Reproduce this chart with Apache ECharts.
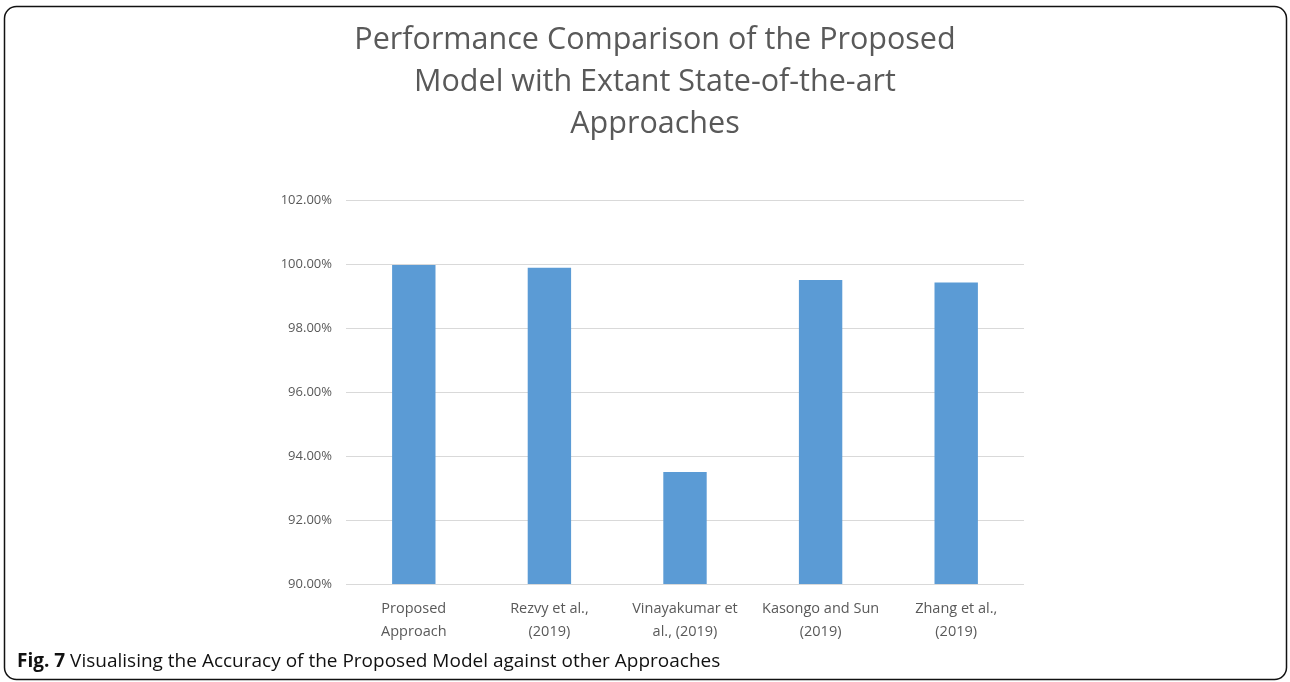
<!DOCTYPE html>
<html>
<head>
<meta charset="utf-8">
<script src="https://cdn.jsdelivr.net/npm/echarts@6/dist/echarts.min.js"></script>
<style>
  html, body { margin: 0; padding: 0; background: #fff; }
  #chart { width: 1290px; height: 682px; }
</style>
</head>
<body>
<div id="chart"></div>
<script>
// Accuracy (%) of each approach
const categories = [
  'Proposed\nApproach',
  'Rezvy et al.,\n(2019)',
  'Vinayakumar et\nal., (2019)',
  'Kasongo and Sun\n(2019)',
  'Zhang et al.,\n(2019)'
];
const accuracy = [99.97, 99.88, 93.5, 99.5, 99.42];
const yMin = 90, yMax = 102, yStep = 2;

const chart = echarts.init(document.getElementById('chart'), null, { renderer: 'canvas' });

chart.setOption({
  backgroundColor: '#ffffff',
  animation: false,
  title: {
    text: 'Performance Comparison of the Proposed\nModel with Extant State-of-the-art\nApproaches',
    left: 650,
    textAlign: 'center',
    top: 14,
    textStyle: {
      fontFamily: 'Open Sans',
      fontWeight: 'normal',
      fontSize: 30.5,
      lineHeight: 42,
      color: '#595959'
    }
  },
  grid: { left: 346, right: 266, top: 200, bottom: 98, containLabel: false },
  xAxis: {
    type: 'category',
    data: categories,
    axisLine: { show: false },
    axisTick: { show: false },
    axisLabel: {
      interval: 0,
      margin: 13,
      fontFamily: 'Open Sans',
      fontSize: 14.5,
      lineHeight: 23,
      color: '#595959'
    }
  },
  yAxis: {
    type: 'value',
    min: yMin,
    max: yMax,
    interval: yStep,
    axisLine: { show: false },
    axisTick: { show: false },
    splitLine: { lineStyle: { color: '#d9d9d9', width: 1 } },
    axisLabel: {
      margin: 14,
      fontFamily: 'Open Sans',
      fontSize: 13,
      color: '#595959',
      formatter: v => v.toFixed(2) + '%'
    }
  },
  series: [{
    type: 'bar',
    data: accuracy,
    barWidth: '32%',
    itemStyle: { color: '#5b9bd5' }
  }],
  graphic: [
    {
      type: 'rect',
      shape: { x: 4.5, y: 6.5, width: 1282, height: 673, r: 12 },
      style: { fill: 'none', stroke: '#111', lineWidth: 1.5 },
      silent: true
    },
    {
      type: 'text',
      left: 17,
      top: 652,
      style: {
        text: '{b|Fig. 7} Visualising the Accuracy of the Proposed Model against other Approaches',
        fontFamily: 'Open Sans',
        fontSize: 19,
        fill: '#111',
        rich: {
          b: { fontFamily: 'Open Sans', fontSize: 19, fontWeight: 'bold', fill: '#111' }
        }
      }
    }
  ]
});
</script>
</body>
</html>
